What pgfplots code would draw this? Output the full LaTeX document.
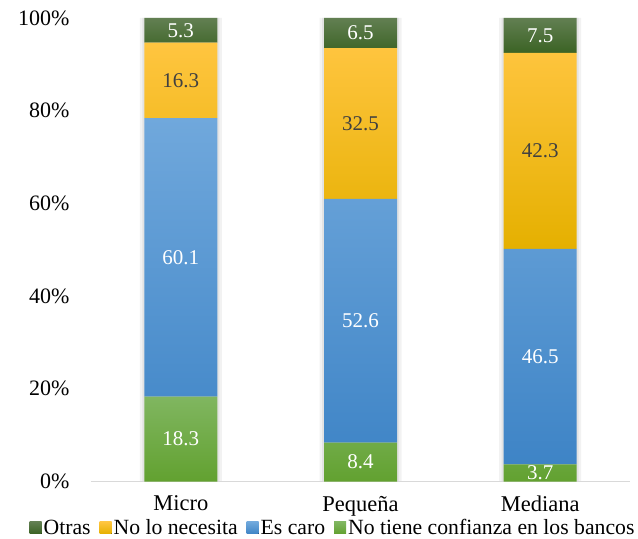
\documentclass[border=0pt]{standalone}
\usepackage{pgfplots}
\pgfplotsset{compat=1.18}
\usepackage{pgfplotstable}
\usepackage{fontspec}
\setmainfont{Liberation Serif}

% segment gradients (top / middle / bottom)
\definecolor{otT}{HTML}{627F52}
\definecolor{otB}{HTML}{3B6324}
\definecolor{neT}{HTML}{FFC540}
\definecolor{neM}{HTML}{FFC000}
\definecolor{neB}{HTML}{E5B000}
\definecolor{caT}{HTML}{70A8DC}
\definecolor{caM}{HTML}{5B9BD5}
\definecolor{caB}{HTML}{3E84C6}
\definecolor{coT}{HTML}{80B660}
\definecolor{coM}{HTML}{70AD47}
\definecolor{coB}{HTML}{62A130}
\definecolor{lbl}{HTML}{404040}

% shares by company size: g = no confianza, b = es caro, y = no lo necesita, o = otras
\pgfplotstableread{
x  g     b     y     o
0  18.3  60.1  16.3  5.3
1  8.4   52.6  32.5  6.5
2  3.7   46.5  42.3  7.5
}\shares

\pgfplotsset{
  common/.style={
    width=539pt, height=463.5pt, scale only axis,
    xmin=-0.5, xmax=2.5, ymin=0, ymax=100,
    clip=false,
    /pgf/number format/assume math mode=true,
  },
  seglabel/.style={
    draw=none, mark=none,
    nodes near coords, point meta=explicit,
    nodes near coords style={anchor=center, font=\fontsize{21}{24}\selectfont, text=#1},
    /pgf/number format/.cd, fixed, precision=1, assume math mode=true,
  },
}

\begin{document}
\begin{tikzpicture}
% soft shadow behind the bars
\begin{axis}[common, hide axis]
\addplot[ybar, bar shift=0pt, bar width=82pt, draw=none, fill=black!5]
  table[x=x, y expr=\thisrow{g}+\thisrow{b}+\thisrow{y}+\thisrow{o}] {\shares};
\addplot[ybar, bar shift=0pt, bar width=77pt, draw=none, fill=black!11]
  table[x=x, y expr=\thisrow{g}+\thisrow{b}+\thisrow{y}+\thisrow{o}] {\shares};
\end{axis}

% stacked bars
\begin{axis}[common,
  ybar stacked, bar width=73pt,
  axis x line*=bottom, axis y line*=left,
  x axis line style={draw=black!15, line width=1.6pt, -},
  y axis line style={draw=none},
  major tick length=0pt,
  xtick={0,1,2}, xticklabels={Micro,Pequeña,Mediana},
  ytick={0,20,40,60,80,100},
  yticklabel={\pgfmathprintnumber{\tick}\%},
  yticklabel style={font=\fontsize{22}{26}\selectfont, xshift=-18pt},
  xticklabel style={font=\fontsize{22.5}{26}\selectfont, yshift=-11pt},
  reverse legend,
  legend columns=-1,
  legend style={at={(0.449,-0.1)}, anchor=center, draw=none, fill=none,
    font=\fontsize{21.7}{24}\selectfont, inner sep=0pt,
    /tikz/every even column/.append style={column sep=7pt}},
  legend image code/.code={\fill[#1] (0pt,-6pt) rectangle (12pt,6pt);},
]
\addplot[draw=none, top color=coT, middle color=coM, bottom color=coB]
  table[x=x, y=g] {\shares};
\addlegendentry{No tiene confianza en los bancos}
\addplot[draw=none, top color=caT, middle color=caM, bottom color=caB]
  table[x=x, y=b] {\shares};
\addlegendentry{Es caro}
\addplot[draw=none, top color=neT, middle color=neM, bottom color=neB]
  table[x=x, y=y] {\shares};
\addlegendentry{No lo necesita}
\addplot[draw=none, top color=otT, bottom color=otB]
  table[x=x, y=o] {\shares};
\addlegendentry{Otras}
\end{axis}

% value labels centred in each segment
\begin{axis}[common, hide axis]
\addplot[seglabel=white] table[x=x, y expr=\thisrow{g}/2, meta=g] {\shares};
\addplot[seglabel=white] table[x=x, y expr=\thisrow{g}+\thisrow{b}/2, meta=b] {\shares};
\addplot[seglabel=lbl] table[x=x, y expr=\thisrow{g}+\thisrow{b}+\thisrow{y}/2, meta=y] {\shares};
\addplot[seglabel=white] table[x=x, y expr=\thisrow{g}+\thisrow{b}+\thisrow{y}+\thisrow{o}/2, meta=o] {\shares};
\coordinate (bbSW) at (rel axis cs:-0.1688,-0.1219);
\coordinate (bbNE) at (rel axis cs:1.0148,1.0388);
\end{axis}
\pgfresetboundingbox
\path[use as bounding box] (bbSW) rectangle (bbNE);
\end{tikzpicture}
\end{document}
